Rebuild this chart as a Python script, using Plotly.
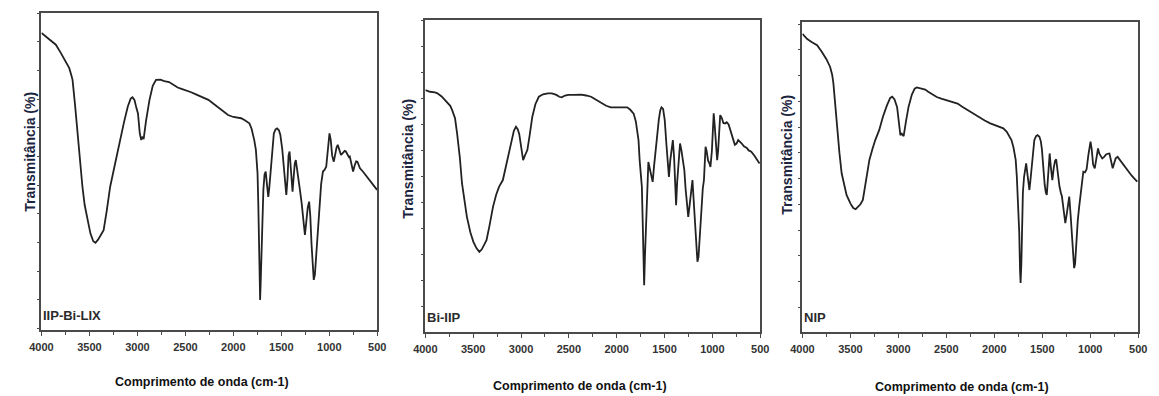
import plotly.graph_objects as go

# ---------------- data ----------------
wn1 = [4000,3950,3900,3850,3800,3750,3710,3690,3676,3650,3625,3600,3573,3550,3522,3490,3460,3437,3410,3380,3352,3320,3284,3250,3220,3181,3140,3100,3070,3051,3030,3010,2994,2975,2960,2950,2935,2910,2874,2840,2806,2760,2720,2670,2620,2580,2533,2480,2440,2396,2350,2300,2260,2200,2150,2124,2080,2055,2000,1950,1919,1880,1850,1833,1810,1790,1782,1765,1748,1740,1731,1721,1715,1704,1695,1687,1675,1663,1650,1636,1625,1612,1595,1578,1560,1544,1525,1510,1490,1475,1460,1448,1435,1425,1414,1405,1395,1383,1372,1360,1349,1335,1322,1305,1288,1270,1254,1240,1225,1210,1198,1185,1175,1162,1150,1135,1120,1100,1085,1066,1050,1032,1020,1010,998,985,970,953,940,925,912,895,878,860,840,827,810,795,786,770,752,735,720,707,680,650,622,580,540,502]
t1 = [93.7,92.5,91.5,90,87.5,85,82.6,80.5,78.9,71,62,53.5,45.2,39.5,34.7,30.5,28,27.5,28.5,30,31.5,37.5,45.2,50,54.5,59.9,65.5,70.5,73,73.4,72.5,70,68.3,62,59.9,61,60.2,66,72.6,77,78.9,79,78.5,78.2,77.2,76.5,76,75.5,75,74.4,73.8,73.2,72.6,71.2,70,69.4,68.2,67.8,67.2,67,66.8,66.2,65.6,65.2,63.5,61.5,59.9,56.8,49.5,40,23.1,9.5,15,28,40,44.2,49,50,46,42,45,49.4,56,62,63.3,63.6,63,61.5,57,51.5,46,42.6,48,55,56.3,52,47,43.6,48,52.5,53.6,51,48.4,44,40,34,30,34,38.5,40.5,36,27,20,15.8,17.5,24,31,38.9,46,50,50.5,51.5,55,60,62,60,55,53.1,55.5,57.5,58.4,56.5,55.2,55.8,56.5,56.3,55.5,54.5,54.7,52,50,52,53.2,53.1,51,50,48.9,47,45.5,44.2]

wn2 = [4000,3950,3900,3874,3830,3780,3740,3720,3690,3668,3640,3617,3590,3566,3530,3498,3465,3436,3410,3385,3361,3330,3293,3260,3230,3190,3150,3110,3075,3053,3035,3019,3000,2985,2978,2960,2934,2910,2882,2850,2814,2770,2720,2677,2630,2600,2575,2540,2506,2450,2400,2370,2320,2267,2220,2170,2110,2062,2000,1950,1891,1860,1823,1800,1785,1772,1760,1745,1737,1728,1718,1713,1705,1693,1680,1669,1655,1640,1624,1610,1595,1584,1560,1545,1532,1515,1498,1480,1465,1454,1440,1425,1413,1400,1390,1379,1368,1350,1338,1325,1310,1293,1280,1265,1252,1240,1225,1208,1195,1180,1168,1156,1145,1130,1115,1100,1088,1080,1071,1060,1045,1030,1020,1005,995,986,975,962,950,940,930,918,900,885,867,850,830,815,800,780,765,747,730,710,695,670,640,620,593,560,530,507]
t2 = [77.5,77,76.8,76.5,75.5,74,72.5,71.1,68.5,63.6,56,47.6,42,36.9,32,28.9,26.8,25.7,26.5,27.8,29.4,34,40.1,44,46.5,48.7,54,60,64.5,65.8,65,63.5,59,55.5,55.1,56.5,58.3,63,69,73,75.4,76.2,76.5,76.5,76,75.4,75.2,75.8,76,76,76.2,76.1,75.8,75.4,74.5,73.5,72.5,72,72,72.2,72,71.3,70,67.5,64.5,61.5,55,50,46.5,35,20,15,24,36,47,54.5,52.5,50,48.1,53,58,60.4,68,71,72,71.5,68,60,53,49.7,55,60,61.5,56,47,40.6,48,58,60.4,58.5,55,51.9,46,40,36.9,40,45,48.7,42,33,26,22.5,24,31,40,46,48.7,53,59.4,58,55,54,52.9,58,64,70.1,66,60,55.1,58,65,69.5,68.5,67,66.8,67.2,66.5,65.2,63.5,61.5,60,60.4,61.5,61,60.5,59.5,59,58.2,57.8,56.5,55,54]

wn3 = [4000,3950,3900,3847,3800,3750,3711,3690,3677,3660,3642,3615,3591,3565,3540,3500,3470,3445,3420,3395,3370,3340,3302,3270,3240,3200,3160,3120,3085,3064,3040,3013,2995,2979,2965,2945,2920,2894,2860,2830,2808,2760,2720,2689,2640,2600,2553,2500,2440,2383,2330,2280,2213,2160,2100,2042,2000,1950,1906,1870,1840,1821,1800,1777,1765,1753,1740,1732,1726,1718,1710,1702,1690,1678,1668,1655,1645,1634,1620,1600,1583,1565,1549,1530,1515,1504,1490,1475,1463,1453,1440,1430,1423,1410,1395,1380,1367,1355,1340,1321,1307,1295,1280,1270,1260,1245,1230,1219,1205,1190,1178,1168,1158,1145,1130,1115,1106,1090,1072,1055,1038,1020,1005,997,985,970,953,940,930,919,905,890,875,855,835,820,800,785,766,750,735,715,690,660,630,600,570,540,510]
t3 = [96.2,94.5,93.5,92.5,90.5,88,85.5,83,80.2,74,66.2,58,51.2,47,44.2,41.5,40,39.6,40.3,41.2,42.6,48,55.5,59,62,65.1,69.5,73,75.5,75.9,75,72.5,67,63.5,64,63.2,68,72.6,76.5,78.5,78.9,78.6,78.2,77.5,76.5,75.8,75.3,74.8,74.2,73.7,72.6,71.6,70.5,69.3,68.2,67.3,66.8,66.2,65.7,64.6,63.2,61.9,59.5,55.5,50,42.6,32,20,15.8,22,35,45,50,53.5,54.4,51,47.5,45.8,50,57,61.9,63.2,63.5,63,61.5,59,53,47.5,45,44.2,50,55.5,57.6,53,49,53,55.2,55.7,51.5,47,45,43.7,40,37,35.1,38,42,43.7,38,30,23.5,20.6,22,29,36,40.5,42.6,48,51.7,51.5,52.5,57,60.5,61.4,59,54,52.8,55,58,59.2,57.5,56.5,56,56.5,57.3,57.5,57.6,55.5,52.8,54.5,56,56.5,55.5,54,52.8,51.5,50.5,49.5,48.5]

sample_labels = ["IIP-Bi-LIX", "Bi-IIP", "NIP"]
x_tick_vals = [4000, 3500, 3000, 2500, 2000, 1500, 1000, 500]
x_tick_text = ["4000", "3500", "3000", "2500", "2000", "1500", "1000", "500"]
x_minor_vals = [3750, 3250, 2750, 2250, 1750, 1250, 750]
x_title = "Comprimento de onda (cm-1)"
y_title = "Transmitância (%)"

# ---------------- layout geometry (pixels) ----------------
W, H = 1159, 396
panels = [
    dict(x0=30, x1=372, y0=13, y1=330, tick0=9.5, dtick=9.05, ytx=18, yty=152, xtx=193, xty=382),
    dict(x0=421, x1=762, y0=20, y1=332, tick0=8.2, dtick=8.32, ytx=403, yty=159, xtx=578, xty=386),
    dict(x0=805, x1=1147, y0=22, y1=332, tick0=8.0, dtick=8.3, ytx=789, yty=155, xtx=968, xty=387),
]
series = [(wn1, t1), (wn2, t2), (wn3, t3)]

fig = go.Figure()
annotations = []
tick_font = dict(family="Liberation Sans, Arial", size=11, color="#333333", weight="bold")

for i, (p, (wn, tr)) in enumerate(zip(panels, series)):
    n = "" if i == 0 else str(i + 1)
    fig.add_trace(go.Scatter(x=wn, y=tr, mode="lines", xaxis="x" + n, yaxis="y" + n,
                             line=dict(color="#222222", width=1.8), showlegend=False,
                             hoverinfo="skip"))
    xd = [p["x0"] / W, p["x1"] / W]
    yd = [1 - p["y1"] / H, 1 - p["y0"] / H]
    fig.layout["xaxis" + n] = dict(
        domain=xd, anchor="y" + n, range=[4000, 500], showgrid=False, zeroline=False,
        showline=True, linecolor="#4a4a4a", linewidth=1.6, mirror=True,
        tickmode="array", tickvals=x_tick_vals, ticktext=x_tick_text,
        ticks="outside", ticklen=4, tickwidth=1.3, tickcolor="#4a4a4a",
        minor=dict(tickvals=x_minor_vals, ticks="outside",
                   ticklen=3, tickwidth=1.2, tickcolor="#4a4a4a"),
        tickfont=tick_font, ticklabelstandoff=2,
    )
    fig.layout["yaxis" + n] = dict(
        domain=yd, anchor="x" + n, range=[0, 100], showgrid=False, zeroline=False,
        showline=True, linecolor="#4a4a4a", linewidth=1.6, mirror=True,
        tickmode="linear", tick0=p["tick0"], dtick=p["dtick"], showticklabels=False,
        ticks="outside", ticklen=3, tickwidth=1.2, tickcolor="#4a4a4a",
    )
    annotations.append(dict(text=sample_labels[i], xref="x" + n + " domain", yref="y" + n + " domain",
                            x=0.0, y=0.015, xanchor="left", yanchor="bottom", showarrow=False,
                            font=dict(family="Liberation Sans, Arial", size=13, color="#2b2b2b", weight="bold")))
    annotations.append(dict(text=x_title, xref="paper", yref="paper",
                            x=p["xtx"] / W, y=1 - p["xty"] / H, xanchor="center", yanchor="middle",
                            showarrow=False,
                            font=dict(family="Liberation Sans, Arial", size=12.5,
                                      color="#111111", weight="bold")))
    annotations.append(dict(text=y_title, xref="paper", yref="paper", textangle=-90,
                            x=p["ytx"] / W, y=1 - p["yty"] / H, xanchor="center", yanchor="middle",
                            showarrow=False,
                            font=dict(family="Liberation Sans, Arial", size=14, color="#1c2540", weight="bold")))

fig.update_layout(width=W, height=H, margin=dict(l=0, r=0, t=0, b=0),
                  paper_bgcolor="white", plot_bgcolor="white", annotations=annotations)

fig.write_html("out.html")
